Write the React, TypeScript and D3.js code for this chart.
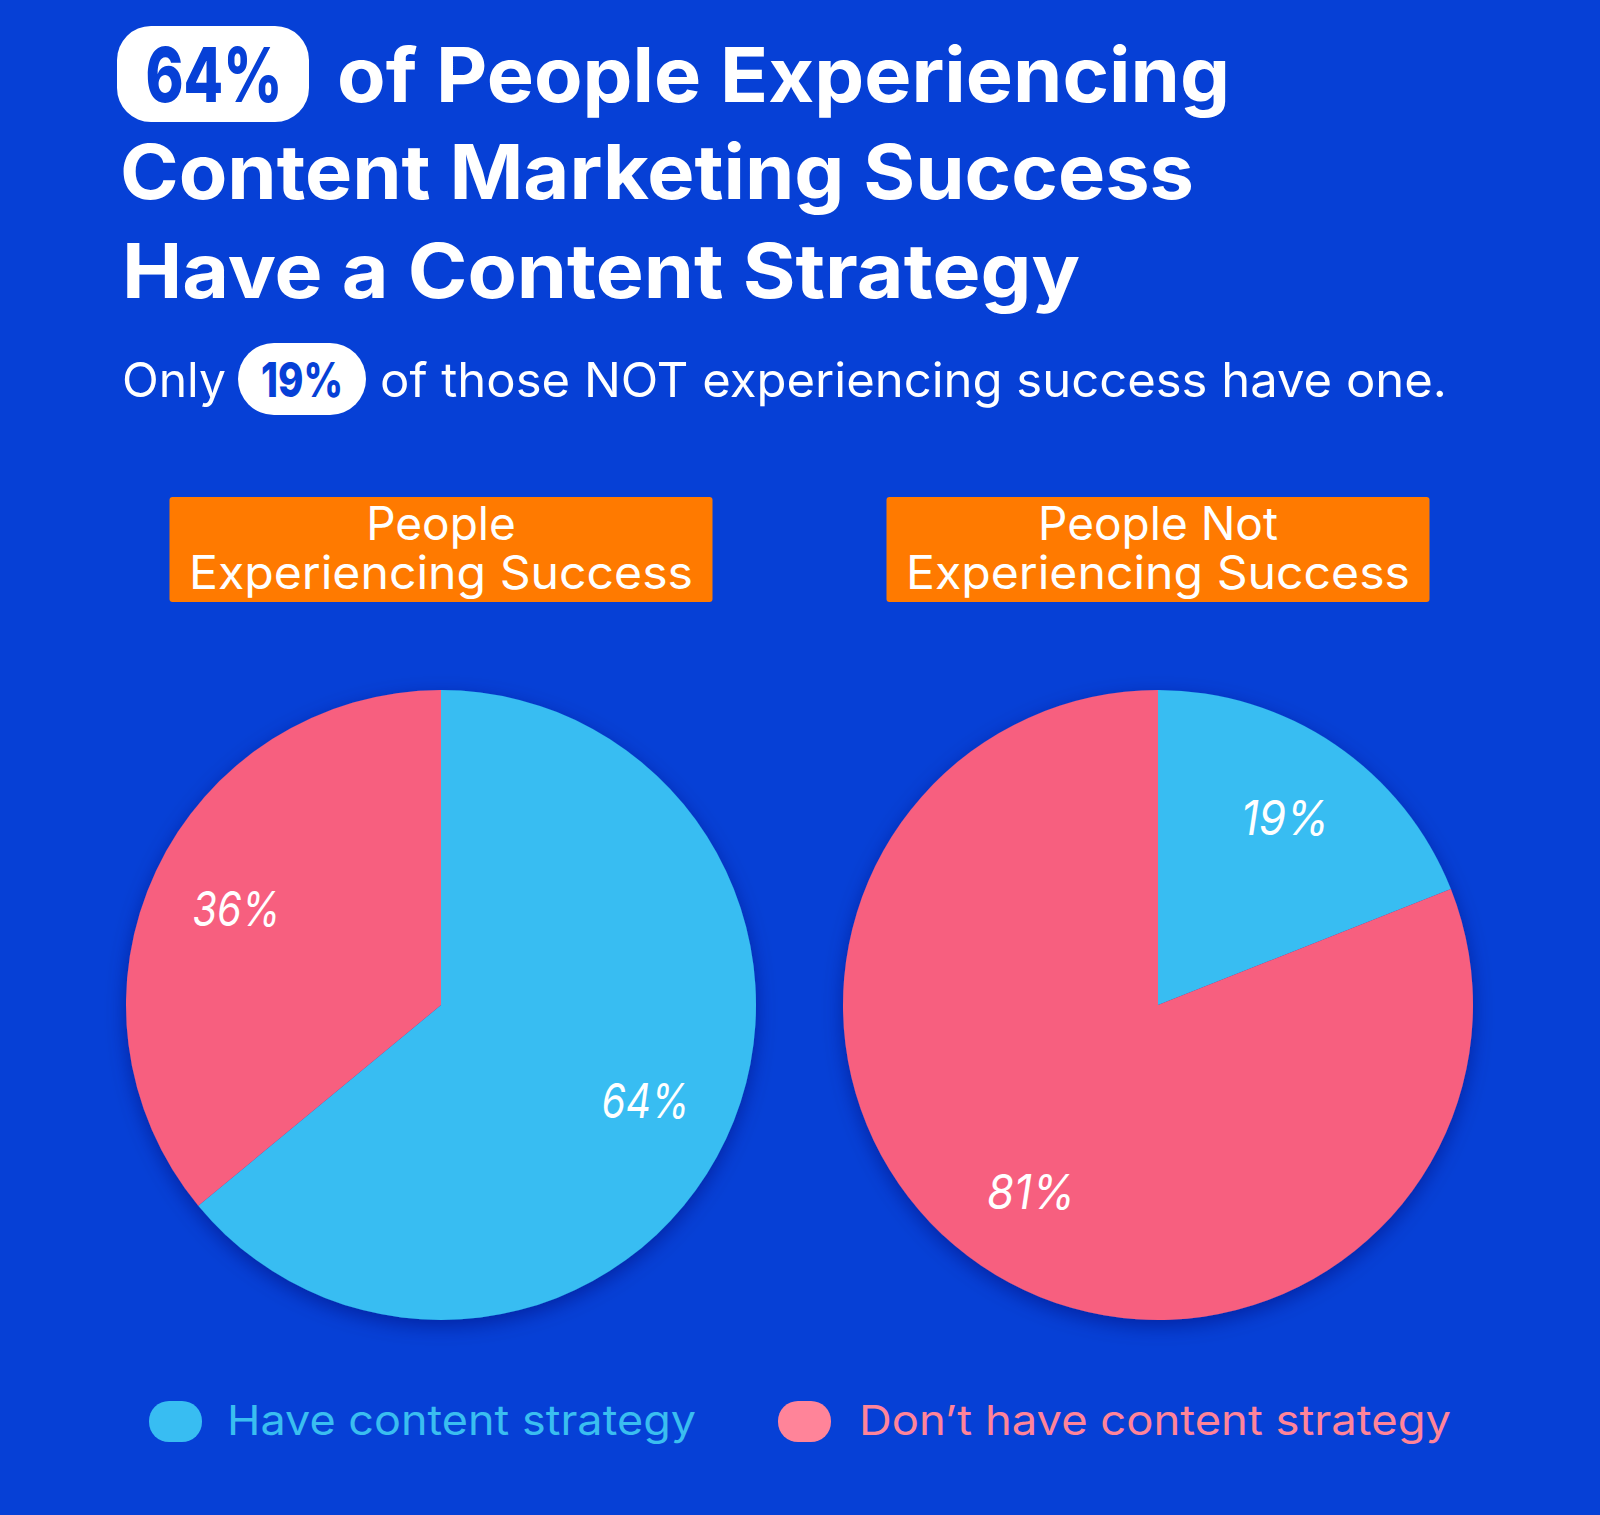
import React from "react";
import * as d3 from "d3";

// ---------- data ----------
const groupLabels: string[][] = [
  ["People", "Experiencing Success"],
  ["People Not", "Experiencing Success"],
];
const haveValues = [64, 19];
const dontValues = [36, 81];
const seriesNames = ["Have content strategy", "Don\u2019t have content strategy"];
const titleHighlight = "64%";
const titleLines = ["of People Experiencing", "Content Marketing Success", "Have a Content Strategy"];
const subtitleParts = ["Only", "19%", "of those NOT experiencing success have one."];

// ---------- style ----------
const W = 1600;
const H = 1515;
const BG = "#0640D6";
const BLUE = "#38BDF2";
const PINK = "#F75E7F";
const ORANGE = "#FF7A00";
const LEG_BLUE = "#3ABEF0";
const LEG_PINK = "#FF8499";
const FONT = "Inter, 'Noto Sans', sans-serif";

export default function App() {
  const R = 315;
  const cy = 1005;
  const x = d3.scalePoint<number>().domain([0, 1]).range([441, 1158]);
  const color = d3.scaleOrdinal<number, string>().domain([0, 1]).range([BLUE, PINK]);
  const pie = d3.pie<number>().sort(null).value((d) => d);
  const arc = d3.arc<d3.PieArcDatum<number>>().innerRadius(0).outerRadius(R);
  const labelArc = d3.arc<d3.PieArcDatum<number>>().innerRadius(226).outerRadius(226);

  return (
    <svg
      width={W}
      height={H}
      viewBox={`0 0 ${W} ${H}`}
      style={{ position: "absolute", left: 0, top: 0, display: "block" }}
    >
      <defs>
        <filter id="shadow" x="-20%" y="-20%" width="140%" height="140%">
          <feDropShadow dx="0" dy="6" stdDeviation="10" floodColor="#001060" floodOpacity="0.45" />
        </filter>
      </defs>
      <rect x={0} y={0} width={W} height={H} fill={BG} />

      {/* Title */}
      <rect x={117} y={26} width={192} height={96} rx={34} fill="#fff" />
      <text x={214} y={102} textAnchor="middle" fontFamily={FONT} fontWeight={800} fontSize={76}
        fill={BG} textLength={137} lengthAdjust="spacingAndGlyphs">{titleHighlight}</text>
      {titleLines.map((t, i) => {
        const xs = [337, 120, 122];
        const ys = [102, 199, 298];
        const ws = [893, 1074, 958];
        return (
          <text key={i} x={xs[i]} y={ys[i]} fontFamily={FONT} fontWeight={700} fontSize={76}
            fill="#fff" textLength={ws[i]} lengthAdjust="spacingAndGlyphs">{t}</text>
        );
      })}

      {/* Subtitle */}
      <text x={122} y={397} fontFamily={FONT} fontWeight={400} fontSize={48} fill="#fff"
        textLength={104} lengthAdjust="spacingAndGlyphs">{subtitleParts[0]}</text>
      <rect x={238} y={343} width={128} height={72} rx={36} fill="#fff" />
      <text x={302} y={397} textAnchor="middle" fontFamily={FONT} fontWeight={800} fontSize={48}
        fill={BG} textLength={82} lengthAdjust="spacingAndGlyphs">{subtitleParts[1]}</text>
      <text x={380} y={397} fontFamily={FONT} fontWeight={400} fontSize={48} fill="#fff"
        textLength={1067} lengthAdjust="spacingAndGlyphs">{subtitleParts[2]}</text>

      {/* Pies */}
      {haveValues.map((hv, gi) => {
        const cx = x(gi)!;
        const arcs = pie([hv, dontValues[gi]]);
        return (
          <g key={gi}>
            <rect x={cx - 271.5} y={497} width={543} height={105} rx={3} fill={ORANGE} />
            <text x={cx} y={540} textAnchor="middle" fontFamily={FONT} fontSize={46} fill="#fff">
              {groupLabels[gi][0]}
            </text>
            <text x={cx} y={589} textAnchor="middle" fontFamily={FONT} fontSize={46} fill="#fff"
              textLength={504} lengthAdjust="spacingAndGlyphs">{groupLabels[gi][1]}</text>
            <g transform={`translate(${cx},${cy})`}>
              <g filter="url(#shadow)">
                {arcs.map((a, i) => (
                  <path key={i} d={arc(a)!} fill={color(i)} />
                ))}
              </g>
              {arcs.map((a, i) => {
                const [lx, ly] = labelArc.centroid(a);
                return (
                  <text key={i} x={lx} y={ly + 17} textAnchor="middle" fontFamily={FONT}
                    fontStyle="italic" fontWeight={400} fontSize={48} fill="#fff"
                    textLength={88} lengthAdjust="spacingAndGlyphs">
                    {`${a.data}%`}
                  </text>
                );
              })}
            </g>
          </g>
        );
      })}

      {/* Legend */}
      {seriesNames.map((s, i) => {
        const px = [149, 778][i];
        const tx = [227, 859][i];
        const tw = [469, 592][i];
        return (
          <g key={i}>
            <rect x={px} y={1401} width={53} height={41} rx={20} fill={i === 0 ? BLUE : LEG_PINK} />
            <text x={tx} y={1435} fontFamily={FONT} fontSize={41} fill={i === 0 ? LEG_BLUE : LEG_PINK}
              textLength={tw} lengthAdjust="spacingAndGlyphs">{s}</text>
          </g>
        );
      })}
    </svg>
  );
}
